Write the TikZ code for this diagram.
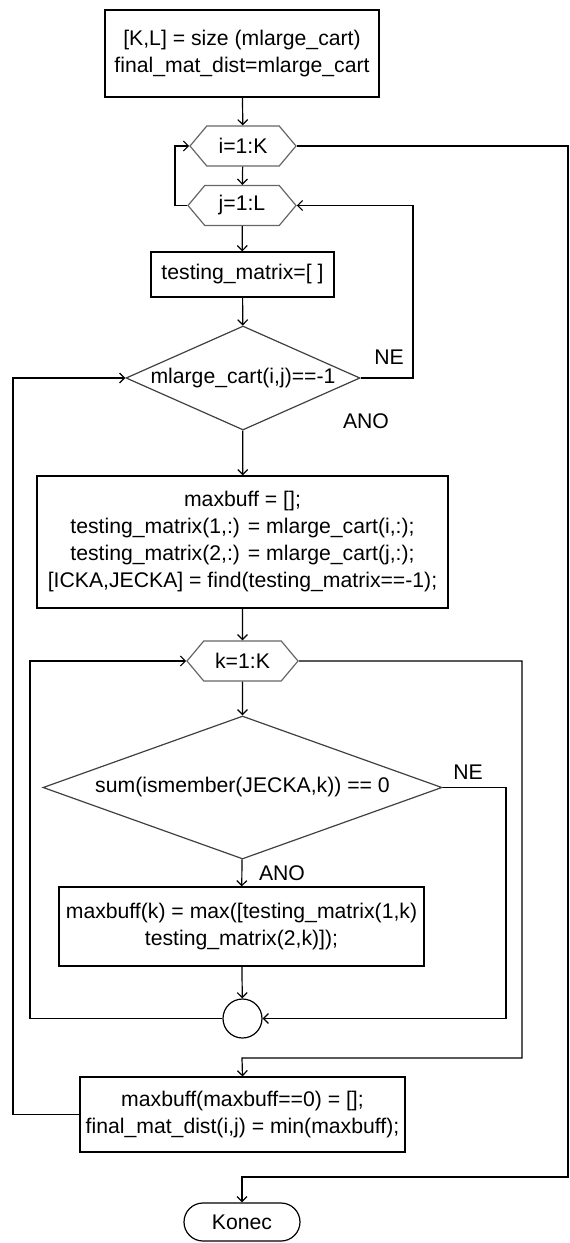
\documentclass[tikz,border=0pt]{standalone}
\usepackage{fontspec}
\setmainfont{Liberation Sans}
\usetikzlibrary{arrows.meta,shapes.geometric,shapes.misc,shapes.symbols}

\begin{document}
\begin{tikzpicture}[
    x=0.5pt, y=-0.5pt,
    font=\fontsize{10.6}{13.5}\selectfont,
    every node/.style={inner sep=0pt, align=center},
    line width=0.6pt,
    arr/.style={-{Straight Barb[length=2.5pt,width=5pt]}},
    cmd/.style={draw, rectangle},
    loophex/.style={draw=black!60, signal, signal to=west and east, signal pointer angle=100, minimum height=20pt},
    cond/.style={draw=black!75, diamond},
    joint/.style={draw, circle, minimum size=19.5pt},
    term/.style={draw, rounded rectangle, minimum width=58pt, minimum height=19pt}
]
    \useasboundingbox (0,0) rectangle (569,1243);

    % Init
    \node[cmd, minimum width=137pt, minimum height=43.5pt] (init) at (242,53.5) {[K,L] = size (mlarge\_cart)\\final\_mat\_dist=mlarge\_cart};

    % Outer loops
    \node[loophex, minimum width=53pt] (iloop) at (243,146) {i=1:K};
    \node[loophex, minimum width=54pt] (jloop) at (242,205.5) {j=1:L};
    \node[cmd, minimum width=91.5pt, minimum height=22.5pt] (tmat) at (242.5,274.5) {testing\_matrix=[ ]};

    % First condition
    \node[cond, aspect=2.25, minimum width=117pt, minimum height=52pt] (cond1) at (243,378) {mlarge\_cart(i,j)==-1};
    \node (ne1) at (389,357) {NE};
    \node (ano1) at (366,421) {ANO};

    \node[cmd, minimum width=205.5pt, minimum height=66pt] (prep) at (242.5,542) {maxbuff = [];\\testing\_matrix(1,:) = mlarge\_cart(i,:);\\testing\_matrix(2,:) = mlarge\_cart(j,:);\\{}[ICKA,JECKA] = find(testing\_matrix==-1);};

    % Inner loop
    \node[loophex, minimum width=55.5pt] (kloop) at (242.5,661) {k=1:K};
    \node[cond, aspect=2.79, minimum width=199.5pt, minimum height=71.5pt] (cond2) at (242.5,787.5) {sum(ismember(JECKA,k)) == 0};
    \node (ne2) at (468,772) {NE};
    \node (ano2) at (282,873) {ANO};
    \node[cmd, minimum width=182.5pt, minimum height=39.5pt] (maxk) at (241.5,926.5) {maxbuff(k) = max([testing\_matrix(1,k)\\testing\_matrix(2,k)]);};
    \node[joint] (kjoin) at (242.5,1018.5) {};

    % After inner loop
    \node[cmd, minimum width=162.5pt, minimum height=37.5pt] (store) at (242.5,1114.5) {maxbuff(maxbuff==0) = [];\\final\_mat\_dist(i,j) = min(maxbuff);};
    \node[term] (konec) at (242,1222) {Konec};

    % Corners of the routed lines
    \coordinate (iback) at (175,205.5);
    \coordinate (iexit) at (568,146);
    \coordinate (idone) at (242,1177);
    \coordinate (jback) at (413,205.5);
    \coordinate (cback) at (13,378);
    \coordinate (kback) at (30,661);
    \coordinate (kexit) at (522,1058);
    \coordinate (kdone) at (242,1058);
    \coordinate (nback) at (506,1018.5);

    % Straight flow
    \draw[arr] (init) -- (iloop);
    \draw[arr] (iloop) -- (jloop);
    \draw[arr] (jloop) -- (tmat);
    \draw[arr] (tmat) -- (cond1);
    \draw[arr] (cond1) -- (prep);
    \draw[arr] (prep) -- (kloop);
    \draw[arr] (kloop) -- (cond2);
    \draw[arr] (cond2) -- (maxk);
    \draw[arr] (maxk) -- (kjoin);

    % Loop returns and exits
    \draw[arr] (jloop.west) -- (iback) |- (iloop.west);
    \draw[arr] (iloop.east) -- (iexit) |- (idone) -- (konec.north);
    \draw[arr] (cond1.east) -| (jback) -- (jloop.east);
    \draw[arr] (store.west) -| (cback) -- (cond1.west);
    \draw[arr] (kjoin.west) -| (kback) -- (kloop.west);
    \draw[arr] (kloop.east) -| (kexit) -- (kdone) -- (store.north);
    \draw[arr] (cond2.east) -| (nback) -- (kjoin.east);

\end{tikzpicture}
\end{document}
